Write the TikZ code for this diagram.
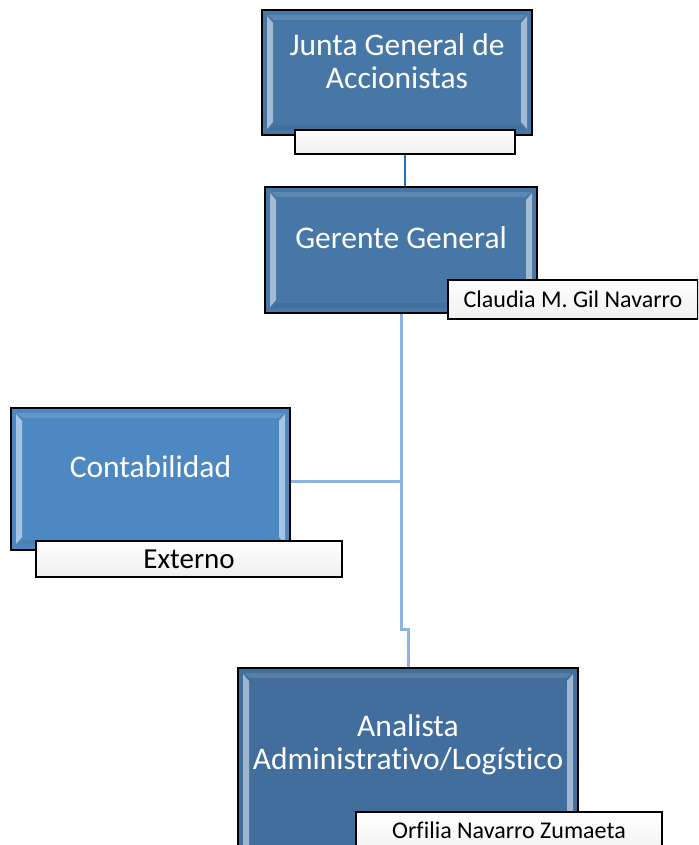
\documentclass[tikz,border=0pt]{standalone}
\usepackage{fontspec}
\setmainfont{Carlito}[RawFeature=-liga]
\usetikzlibrary{backgrounds}
\definecolor{boxdark}{HTML}{4677A6}
\definecolor{boxmid}{HTML}{4E88C2}
\definecolor{boxdeep}{HTML}{416E9D}
\definecolor{linklight}{HTML}{8DB3E2}
\definecolor{linkdark}{HTML}{1F72BF}
\tikzset{
  mainbox/.style={draw=black, line width=1.6pt, rectangle, inner sep=0pt,
    path picture={
      \fill[white, opacity=0.5]
        ([xshift=5pt,yshift=-6pt]path picture bounding box.north west) --
        ([xshift=11pt,yshift=-13pt]path picture bounding box.north west) --
        ([xshift=11pt,yshift=13pt]path picture bounding box.south west) --
        ([xshift=5pt,yshift=6pt]path picture bounding box.south west) -- cycle;
      \fill[white, opacity=0.5]
        ([xshift=-5pt,yshift=-6pt]path picture bounding box.north east) --
        ([xshift=-11pt,yshift=-13pt]path picture bounding box.north east) --
        ([xshift=-11pt,yshift=13pt]path picture bounding box.south east) --
        ([xshift=-5pt,yshift=6pt]path picture bounding box.south east) -- cycle;
      \fill[white, opacity=0.12]
        ([xshift=6pt,yshift=-5pt]path picture bounding box.north west) --
        ([xshift=-6pt,yshift=-5pt]path picture bounding box.north east) --
        ([xshift=-12pt,yshift=-10pt]path picture bounding box.north east) --
        ([xshift=12pt,yshift=-10pt]path picture bounding box.north west) -- cycle;
      \fill[black, opacity=0.06]
        ([xshift=6pt,yshift=5pt]path picture bounding box.south west) --
        ([xshift=-6pt,yshift=5pt]path picture bounding box.south east) --
        ([xshift=-12pt,yshift=10pt]path picture bounding box.south east) --
        ([xshift=12pt,yshift=10pt]path picture bounding box.south west) -- cycle;
    }},
  maintext/.style={text=white, font=\fontsize{31.5}{33.5}\selectfont, align=center, inner sep=0pt},
  labelbox/.style={draw=black, line width=1.3pt, rectangle, inner sep=0pt,
    top color=white, bottom color=black!6, text=black},
  labeltext/.style={font=\fontsize{24}{28}\selectfont},
  lightlink/.style={draw=linklight, line width=3pt},
  darklink/.style={draw=linkdark, line width=2.2pt}
}
\begin{document}
\begin{tikzpicture}[x=1pt,y=-1pt]
\useasboundingbox (0,0) rectangle (698,845);
\clip (0,0) rectangle (698,845);
% main boxes
\node[mainbox, fill=boxdark, minimum width=270pt, minimum height=125pt] (junta) at (397,72.5) {};
\node[maintext] (juntaT) at (397,61) {Junta General de\\Accionistas};
\node[labelbox, minimum width=220pt, minimum height=24pt] (juntaL) at (405,142) {};

\node[mainbox, fill=boxdark, minimum width=272pt, minimum height=126pt] (gerente) at (401,250) {};
\node[maintext] (gerenteT) at (401,238) {Gerente General};
\node[labelbox, labeltext, minimum width=250pt, minimum height=39pt] (claudia) at (573,299.5) {Claudia M. Gil Navarro};

\node[mainbox, fill=boxmid, minimum width=279pt, minimum height=142pt] (conta) at (150.5,479) {};
\node[maintext] (contaT) at (150.5,467) {Contabilidad};
\node[labelbox, minimum width=306pt, minimum height=36pt, font=\fontsize{29}{32}\selectfont] (externo) at (189,559) {Externo};

\node[mainbox, fill=boxdeep, minimum width=340pt, minimum height=200pt] (analista) at (408,768) {};
\node[maintext] (analistaT) at (408,745) {Analista\\Administrativo/Logístico};
\node[labelbox, labeltext, minimum width=306pt, minimum height=50pt] (orfilia) at (509,837) {};
\node[labeltext, anchor=base] (orfiliaT) at (509,838) {Orfilia Navarro Zumaeta};

% connectors
\coordinate (branch) at (401,481);
\begin{scope}[on background layer]
\draw[darklink] (juntaL.south) -- (juntaL.south |- gerente.north);
\draw[lightlink] (gerente.south -| branch) -- (401,629) -- (408,629) -- (analista.north);
\draw[lightlink] (conta.east |- branch) -- (branch);
\end{scope}
\end{tikzpicture}
\end{document}
